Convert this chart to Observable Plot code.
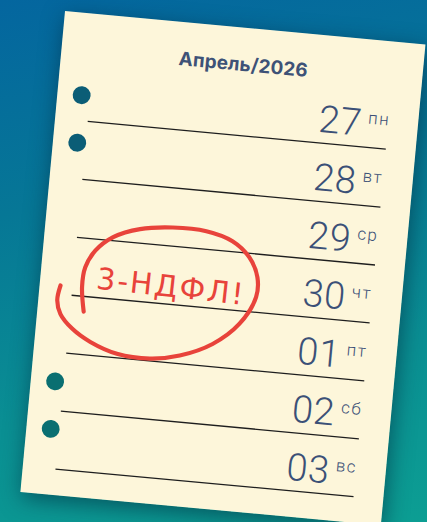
<!DOCTYPE html>
<html><head><meta charset="utf-8">
<script src="https://cdn.jsdelivr.net/npm/d3@7"></script>
<script src="https://cdn.jsdelivr.net/npm/@observablehq/plot@0.6"></script>
<style>
html,body{margin:0;padding:0;width:427px;height:522px;overflow:hidden}
body{background:linear-gradient(168deg,#04669f 0%,#067796 35%,#0a8f93 70%,#0c9e93 100%);position:relative}
#paper{position:absolute;left:65px;top:11px;transform:rotate(5.3deg);transform-origin:0 0;box-shadow:2px 6px 22px rgba(0,35,55,0.55)}
#paper svg{display:block}
</style></head>
<body><div id="paper"></div>
<script>
// Page content
const monthTitle = "Апрель/2026";
const days = ["27","28","29","30","01","02","03"];
const weekdays = ["пн","вт","ср","чт","пт","сб","вс"];
// binder holes, in row units (row i = ruled line of day i)
const holeRowsTop = [-0.44, 0.38];
const holeRowsBottom = [4.5, 5.32];
// hand-drawn red loop (paper x units, row units)
const loopX = [20.5,18.6,23.1,36.1,55.6,83.3,116.8,146.4,178.2,203.3,217.4,216.9,207.0,188.6,161.5,127.5,94.9,68.8,52.1,43.6,42.2,46.1];
const loopY = [2.85,3.11,3.34,3.57,3.77,3.93,3.96,3.86,3.61,3.22,2.74,2.40,2.07,1.82,1.69,1.68,1.76,1.94,2.20,2.50,2.84,3.26];
const noteText = "3-НДФЛ!";

const W = 364, H = 486, rowTop = 108, rowGap = 58.5;
const rows = days.map((d, i) => i);
const loop = loopX.map((x, i) => ({x, y: loopY[i]}));
const ink = "#3b5077", red = "#e8433b";
const light = "Roboto, 'Open Sans', sans-serif";

const svg = Plot.plot({
  width: W, height: H, margin: 0,
  x: {domain: [0, W], range: [0, W], axis: null},
  y: {domain: [-rowTop / rowGap, (H - rowTop) / rowGap], range: [0, H], axis: null},
  style: {background: "#fdf6da", overflow: "visible"},
  marks: [
    Plot.ruleY(rows, {y: d => d, x1: 33, x2: 334, stroke: "#1e1e1e", strokeWidth: 1.3}),
    Plot.dot(holeRowsTop, {x: 24, y: d => d, r: 9, fill: "#0b5d76"}),
    Plot.dot(holeRowsBottom, {x: 24, y: d => d, r: 9, fill: "#0a6f71"}),
    Plot.text([monthTitle], {x: W / 2 + 1, y: -1.11, text: d => d, textAnchor: "middle", lineAnchor: "bottom",
      fontSize: 19, fontWeight: 700, fill: "#3e5277", fontFamily: "Inter, sans-serif"}),
    Plot.text(days, {x: 307, y: (d, i) => i, text: d => d, dy: -11, textAnchor: "end", lineAnchor: "bottom",
      fontSize: 38, fontWeight: 300, fill: ink, fontFamily: light}),
    Plot.text(weekdays, {x: 313, y: (d, i) => i, text: d => d, dy: -24, textAnchor: "start", lineAnchor: "bottom",
      fontSize: 17, fontWeight: 300, fill: ink, fontFamily: light}),
    Plot.line(loop, {x: "x", y: "y", curve: "catmull-rom", stroke: red, strokeWidth: 4.2, strokeLinecap: "round", strokeLinejoin: "round"}),
    Plot.text([noteText], {x: 131, y: 2.87, text: d => d, rotate: 1, textAnchor: "middle", lineAnchor: "bottom",
      fontSize: 30, fill: red, fontFamily: "'DejaVu Sans', sans-serif"})
  ]
});
document.getElementById("paper").appendChild(svg);
// letter spacing tweaks
d3.select(svg).selectAll("text").each(function() {
  const t = this.textContent;
  if (t === monthTitle) this.setAttribute("letter-spacing", "0.2");
  if (weekdays.includes(t)) this.setAttribute("letter-spacing", "1.5");
  if (t === noteText) this.setAttribute("letter-spacing", "2");
  if (days.includes(t)) this.setAttribute("letter-spacing", "0.5");
});
</script>
</body></html>
